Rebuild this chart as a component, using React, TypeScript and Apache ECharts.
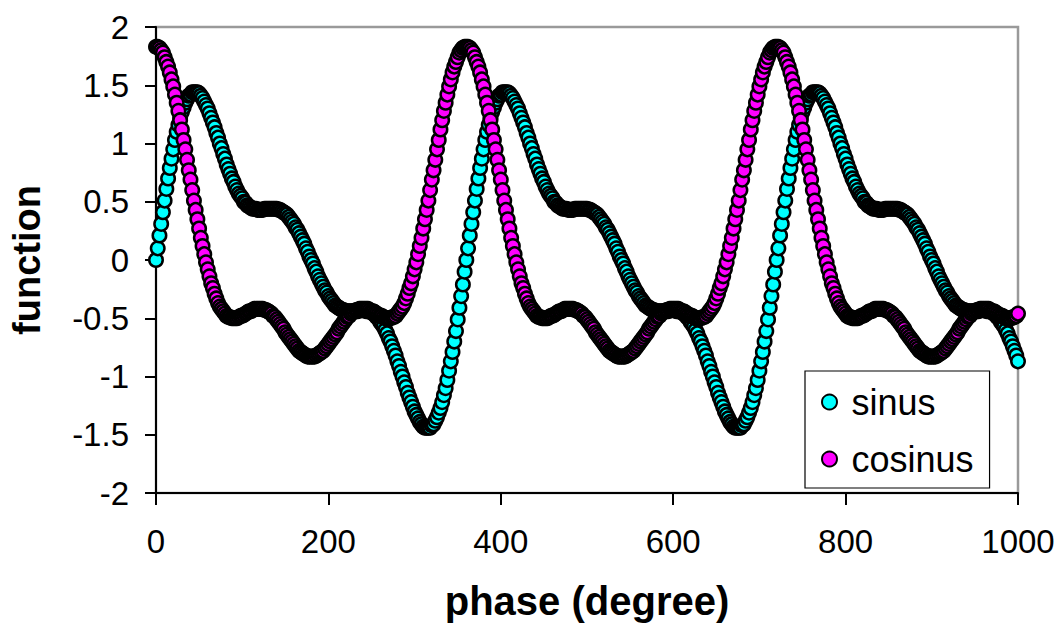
import React, { useEffect, useRef } from "react";
import * as echarts from "echarts";

// Phase step between samples, in degrees (points at 0, 2, 4, ... 1000)
const phaseStep = 2;
const xTicks = [0, 200, 400, 600, 800, 1000];
const yTicks = [-2, -1.5, -1, -0.5, 0, 0.5, 1, 1.5, 2];

// sinus, phase 0..358
const sinus0to358 = [
  0, 0.10, 0.21, 0.31, 0.41, 0.51, 0.61, 0.70, 0.79, 0.87,
  0.95, 1.03, 1.10, 1.16, 1.22, 1.27, 1.31, 1.35, 1.38, 1.41,
  1.42, 1.44, 1.44, 1.44, 1.44, 1.43, 1.41, 1.39, 1.36, 1.33,
  1.30, 1.26, 1.22, 1.18, 1.14, 1.09, 1.05, 1.00, 0.96, 0.91,
  0.87, 0.82, 0.78, 0.74, 0.70, 0.67, 0.63, 0.60, 0.57, 0.55,
  0.53, 0.50, 0.49, 0.47, 0.46, 0.45, 0.44, 0.44, 0.44, 0.43,
  0.43, 0.43, 0.43, 0.44, 0.44, 0.44, 0.44, 0.44, 0.44, 0.44,
  0.44, 0.43, 0.43, 0.42, 0.41, 0.40, 0.39, 0.37, 0.35, 0.33,
  0.31, 0.28, 0.26, 0.23, 0.20, 0.17, 0.14, 0.10, 0.07, 0.03,
  0, -0.03, -0.07, -0.10, -0.14, -0.17, -0.20, -0.23, -0.26, -0.28,
  -0.31, -0.33, -0.35, -0.37, -0.39, -0.40, -0.41, -0.42, -0.43, -0.43,
  -0.44, -0.44, -0.44, -0.44, -0.44, -0.44, -0.44, -0.44, -0.43, -0.43,
  -0.43, -0.43, -0.44, -0.44, -0.44, -0.45, -0.46, -0.47, -0.49, -0.50,
  -0.53, -0.55, -0.57, -0.60, -0.63, -0.67, -0.70, -0.74, -0.78, -0.82,
  -0.87, -0.91, -0.96, -1.00, -1.05, -1.09, -1.14, -1.18, -1.22, -1.26,
  -1.30, -1.33, -1.36, -1.39, -1.41, -1.43, -1.44, -1.44, -1.44, -1.44,
  -1.42, -1.41, -1.38, -1.35, -1.31, -1.27, -1.22, -1.16, -1.10, -1.03,
  -0.95, -0.87, -0.79, -0.70, -0.61, -0.51, -0.41, -0.31, -0.21, -0.10,
];
// sinus, phase 360..718
const sinus360to718 = [
  0, 0.10, 0.21, 0.31, 0.41, 0.51, 0.61, 0.70, 0.79, 0.87,
  0.95, 1.03, 1.10, 1.16, 1.22, 1.27, 1.31, 1.35, 1.38, 1.41,
  1.42, 1.44, 1.44, 1.44, 1.44, 1.43, 1.41, 1.39, 1.36, 1.33,
  1.30, 1.26, 1.22, 1.18, 1.14, 1.09, 1.05, 1.00, 0.96, 0.91,
  0.87, 0.82, 0.78, 0.74, 0.70, 0.67, 0.63, 0.60, 0.57, 0.55,
  0.53, 0.50, 0.49, 0.47, 0.46, 0.45, 0.44, 0.44, 0.44, 0.43,
  0.43, 0.43, 0.43, 0.44, 0.44, 0.44, 0.44, 0.44, 0.44, 0.44,
  0.44, 0.43, 0.43, 0.42, 0.41, 0.40, 0.39, 0.37, 0.35, 0.33,
  0.31, 0.28, 0.26, 0.23, 0.20, 0.17, 0.14, 0.10, 0.07, 0.03,
  0, -0.03, -0.07, -0.10, -0.14, -0.17, -0.20, -0.23, -0.26, -0.28,
  -0.31, -0.33, -0.35, -0.37, -0.39, -0.40, -0.41, -0.42, -0.43, -0.43,
  -0.44, -0.44, -0.44, -0.44, -0.44, -0.44, -0.44, -0.44, -0.43, -0.43,
  -0.43, -0.43, -0.44, -0.44, -0.44, -0.45, -0.46, -0.47, -0.49, -0.50,
  -0.53, -0.55, -0.57, -0.60, -0.63, -0.67, -0.70, -0.74, -0.78, -0.82,
  -0.87, -0.91, -0.96, -1.00, -1.05, -1.09, -1.14, -1.18, -1.22, -1.26,
  -1.30, -1.33, -1.36, -1.39, -1.41, -1.43, -1.44, -1.44, -1.44, -1.44,
  -1.42, -1.41, -1.38, -1.35, -1.31, -1.27, -1.22, -1.16, -1.10, -1.03,
  -0.95, -0.87, -0.79, -0.70, -0.61, -0.51, -0.41, -0.31, -0.21, -0.10,
];
// sinus, phase 720..1000
const sinus720to1000 = [
  0, 0.10, 0.21, 0.31, 0.41, 0.51, 0.61, 0.70, 0.79, 0.87,
  0.95, 1.03, 1.10, 1.16, 1.22, 1.27, 1.31, 1.35, 1.38, 1.41,
  1.42, 1.44, 1.44, 1.44, 1.44, 1.43, 1.41, 1.39, 1.36, 1.33,
  1.30, 1.26, 1.22, 1.18, 1.14, 1.09, 1.05, 1.00, 0.96, 0.91,
  0.87, 0.82, 0.78, 0.74, 0.70, 0.67, 0.63, 0.60, 0.57, 0.55,
  0.53, 0.50, 0.49, 0.47, 0.46, 0.45, 0.44, 0.44, 0.44, 0.43,
  0.43, 0.43, 0.43, 0.44, 0.44, 0.44, 0.44, 0.44, 0.44, 0.44,
  0.44, 0.43, 0.43, 0.42, 0.41, 0.40, 0.39, 0.37, 0.35, 0.33,
  0.31, 0.28, 0.26, 0.23, 0.20, 0.17, 0.14, 0.10, 0.07, 0.03,
  0, -0.03, -0.07, -0.10, -0.14, -0.17, -0.20, -0.23, -0.26, -0.28,
  -0.31, -0.33, -0.35, -0.37, -0.39, -0.40, -0.41, -0.42, -0.43, -0.43,
  -0.44, -0.44, -0.44, -0.44, -0.44, -0.44, -0.44, -0.44, -0.43, -0.43,
  -0.43, -0.43, -0.44, -0.44, -0.44, -0.45, -0.46, -0.47, -0.49, -0.50,
  -0.53, -0.55, -0.57, -0.60, -0.63, -0.67, -0.70, -0.74, -0.78, -0.82,
  -0.87,
];

// cosinus, phase 0..358
const cosinus0to358 = [
  1.83, 1.83, 1.82, 1.80, 1.78, 1.74, 1.70, 1.66, 1.61, 1.55,
  1.49, 1.42, 1.35, 1.28, 1.20, 1.12, 1.03, 0.95, 0.86, 0.77,
  0.69, 0.60, 0.51, 0.43, 0.35, 0.27, 0.19, 0.12, 0.05, -0.02,
  -0.08, -0.14, -0.20, -0.24, -0.29, -0.33, -0.37, -0.40, -0.42, -0.44,
  -0.46, -0.48, -0.49, -0.49, -0.50, -0.50, -0.50, -0.50, -0.49, -0.48,
  -0.48, -0.47, -0.46, -0.45, -0.44, -0.44, -0.43, -0.42, -0.42, -0.42,
  -0.42, -0.42, -0.42, -0.43, -0.43, -0.44, -0.45, -0.46, -0.48, -0.49,
  -0.51, -0.53, -0.55, -0.57, -0.59, -0.62, -0.64, -0.66, -0.68, -0.70,
  -0.72, -0.74, -0.76, -0.78, -0.79, -0.80, -0.81, -0.82, -0.83, -0.83,
  -0.83, -0.83, -0.83, -0.82, -0.81, -0.80, -0.79, -0.78, -0.76, -0.74,
  -0.72, -0.70, -0.68, -0.66, -0.64, -0.62, -0.59, -0.57, -0.55, -0.53,
  -0.51, -0.49, -0.48, -0.46, -0.45, -0.44, -0.43, -0.43, -0.42, -0.42,
  -0.42, -0.42, -0.42, -0.42, -0.43, -0.44, -0.44, -0.45, -0.46, -0.47,
  -0.48, -0.48, -0.49, -0.50, -0.50, -0.50, -0.50, -0.49, -0.49, -0.48,
  -0.46, -0.44, -0.42, -0.40, -0.37, -0.33, -0.29, -0.24, -0.20, -0.14,
  -0.08, -0.02, 0.05, 0.12, 0.19, 0.27, 0.35, 0.43, 0.51, 0.60,
  0.69, 0.77, 0.86, 0.95, 1.03, 1.12, 1.20, 1.28, 1.35, 1.42,
  1.49, 1.55, 1.61, 1.66, 1.70, 1.74, 1.78, 1.80, 1.82, 1.83,
];
// cosinus, phase 360..718
const cosinus360to718 = [
  1.83, 1.83, 1.82, 1.80, 1.78, 1.74, 1.70, 1.66, 1.61, 1.55,
  1.49, 1.42, 1.35, 1.28, 1.20, 1.12, 1.03, 0.95, 0.86, 0.77,
  0.69, 0.60, 0.51, 0.43, 0.35, 0.27, 0.19, 0.12, 0.05, -0.02,
  -0.08, -0.14, -0.20, -0.24, -0.29, -0.33, -0.37, -0.40, -0.42, -0.44,
  -0.46, -0.48, -0.49, -0.49, -0.50, -0.50, -0.50, -0.50, -0.49, -0.48,
  -0.48, -0.47, -0.46, -0.45, -0.44, -0.44, -0.43, -0.42, -0.42, -0.42,
  -0.42, -0.42, -0.42, -0.43, -0.43, -0.44, -0.45, -0.46, -0.48, -0.49,
  -0.51, -0.53, -0.55, -0.57, -0.59, -0.62, -0.64, -0.66, -0.68, -0.70,
  -0.72, -0.74, -0.76, -0.78, -0.79, -0.80, -0.81, -0.82, -0.83, -0.83,
  -0.83, -0.83, -0.83, -0.82, -0.81, -0.80, -0.79, -0.78, -0.76, -0.74,
  -0.72, -0.70, -0.68, -0.66, -0.64, -0.62, -0.59, -0.57, -0.55, -0.53,
  -0.51, -0.49, -0.48, -0.46, -0.45, -0.44, -0.43, -0.43, -0.42, -0.42,
  -0.42, -0.42, -0.42, -0.42, -0.43, -0.44, -0.44, -0.45, -0.46, -0.47,
  -0.48, -0.48, -0.49, -0.50, -0.50, -0.50, -0.50, -0.49, -0.49, -0.48,
  -0.46, -0.44, -0.42, -0.40, -0.37, -0.33, -0.29, -0.24, -0.20, -0.14,
  -0.08, -0.02, 0.05, 0.12, 0.19, 0.27, 0.35, 0.43, 0.51, 0.60,
  0.69, 0.77, 0.86, 0.95, 1.03, 1.12, 1.20, 1.28, 1.35, 1.42,
  1.49, 1.55, 1.61, 1.66, 1.70, 1.74, 1.78, 1.80, 1.82, 1.83,
];
// cosinus, phase 720..1000
const cosinus720to1000 = [
  1.83, 1.83, 1.82, 1.80, 1.78, 1.74, 1.70, 1.66, 1.61, 1.55,
  1.49, 1.42, 1.35, 1.28, 1.20, 1.12, 1.03, 0.95, 0.86, 0.77,
  0.69, 0.60, 0.51, 0.43, 0.35, 0.27, 0.19, 0.12, 0.05, -0.02,
  -0.08, -0.14, -0.20, -0.24, -0.29, -0.33, -0.37, -0.40, -0.42, -0.44,
  -0.46, -0.48, -0.49, -0.49, -0.50, -0.50, -0.50, -0.50, -0.49, -0.48,
  -0.48, -0.47, -0.46, -0.45, -0.44, -0.44, -0.43, -0.42, -0.42, -0.42,
  -0.42, -0.42, -0.42, -0.43, -0.43, -0.44, -0.45, -0.46, -0.48, -0.49,
  -0.51, -0.53, -0.55, -0.57, -0.59, -0.62, -0.64, -0.66, -0.68, -0.70,
  -0.72, -0.74, -0.76, -0.78, -0.79, -0.80, -0.81, -0.82, -0.83, -0.83,
  -0.83, -0.83, -0.83, -0.82, -0.81, -0.80, -0.79, -0.78, -0.76, -0.74,
  -0.72, -0.70, -0.68, -0.66, -0.64, -0.62, -0.59, -0.57, -0.55, -0.53,
  -0.51, -0.49, -0.48, -0.46, -0.45, -0.44, -0.43, -0.43, -0.42, -0.42,
  -0.42, -0.42, -0.42, -0.42, -0.43, -0.44, -0.44, -0.45, -0.46, -0.47,
  -0.48, -0.48, -0.49, -0.50, -0.50, -0.50, -0.50, -0.49, -0.49, -0.48,
  -0.46,
];

const sinus = [...sinus0to358, ...sinus360to718, ...sinus720to1000];
const cosinus = [...cosinus0to358, ...cosinus360to718, ...cosinus720to1000];

const FONT = "'Liberation Sans', Arial, sans-serif";

export default function App() {
  const ref = useRef<HTMLDivElement>(null);

  useEffect(() => {
    if (!ref.current) return;
    const chart = echarts.init(ref.current, null, { renderer: "svg" });
    const toPoints = (vals: number[]) => vals.map((v, i) => [i * phaseStep, v]);
    chart.setOption({
      animation: false,
      backgroundColor: "#ffffff",
      textStyle: { fontFamily: FONT, color: "#000" },
      grid: {
        left: 156,
        right: 45,
        top: 27,
        bottom: 136,
        show: true,
        borderColor: "#9a9a9a",
        borderWidth: 2.5,
        backgroundColor: "transparent",
      },
      legend: {
        orient: "vertical",
        left: 805,
        top: 371,
        padding: [11, 16, 9, 16],
        itemGap: 17,
        itemWidth: 34,
        itemHeight: 15,
        backgroundColor: "#ffffff",
        borderColor: "#000",
        borderWidth: 1.2,
        borderRadius: 0,
        textStyle: { fontFamily: FONT, fontSize: 36, color: "#000", lineHeight: 40 },
        data: ["sinus", "cosinus"],
      },
      xAxis: {
        type: "value",
        min: xTicks[0],
        max: xTicks[xTicks.length - 1],
        interval: 200,
        name: "phase (degree)",
        nameLocation: "middle",
        nameGap: 88,
        nameTextStyle: { fontFamily: FONT, fontSize: 40, fontWeight: "bold", color: "#000" },
        axisLine: { show: true, onZero: false, lineStyle: { color: "#000", width: 2 } },
        axisTick: { show: true, length: 12, lineStyle: { color: "#000", width: 2 } },
        axisLabel: {
          fontFamily: FONT,
          fontSize: 33,
          color: "#000",
          margin: 32,
          formatter: (v: number) => String(v),
        },
        splitLine: { show: false },
      },
      yAxis: {
        type: "value",
        min: yTicks[0],
        max: yTicks[yTicks.length - 1],
        interval: 0.5,
        name: "function",
        nameLocation: "middle",
        nameGap: 110,
        nameRotate: 90,
        nameTextStyle: { fontFamily: FONT, fontSize: 38, fontWeight: "bold", color: "#000" },
        axisLine: { show: true, onZero: false, lineStyle: { color: "#000", width: 2 } },
        axisTick: { show: true, length: 11, lineStyle: { color: "#000", width: 2 } },
        axisLabel: {
          fontFamily: FONT,
          fontSize: 33,
          color: "#000",
          margin: 27,
          formatter: (v: number) => String(v),
        },
        splitLine: { show: false },
      },
      series: [
        {
          name: "sinus",
          type: "scatter",
          symbol: "circle",
          symbolSize: 13.5,
          data: toPoints(sinus),
          itemStyle: { color: "#00FFFF", borderColor: "#000", borderWidth: 2.5, opacity: 1 },
          clip: false,
        },
        {
          name: "cosinus",
          type: "scatter",
          symbol: "circle",
          symbolSize: 13.5,
          data: toPoints(cosinus),
          itemStyle: { color: "#FF00FF", borderColor: "#000", borderWidth: 2.5, opacity: 1 },
          clip: false,
        },
      ],
    });
    return () => chart.dispose();
  }, []);

  return (
    <div
      ref={ref}
      style={{
        position: "fixed",
        left: 0,
        top: 0,
        width: 1063,
        height: 629,
        background: "#fff",
      }}
    />
  );
}
